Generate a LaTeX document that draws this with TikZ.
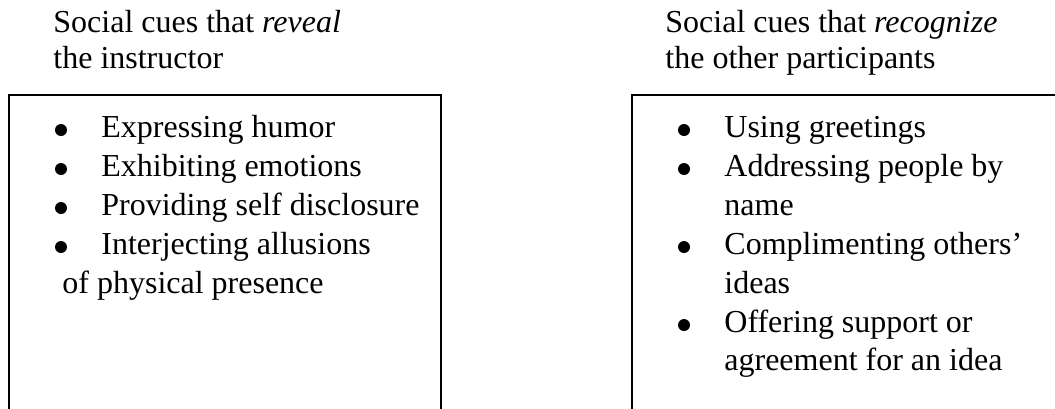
\documentclass[tikz,border=0pt]{standalone}
\usepackage{fontspec}
\setmainfont{Liberation Serif}
\begin{document}
\begin{tikzpicture}[x=0.5pt,y=-0.5pt,
  txt/.style={anchor=base west,inner sep=0pt,font=\fontsize{16}{19}\selectfont},
  bul/.style={circle,fill,inner sep=0pt,minimum size=6pt},
  frame/.style={draw,line width=1pt}]
\useasboundingbox (0,0) rectangle (1055,408);
\clip (0,0) rectangle (1055,408);
% boxes
\draw[frame] (9,95) rectangle (441,440);
\draw[frame] (632,95) rectangle (1090,440);
% left titles
\node[txt] (lt1) at (53,32) {Social cues that \textit{reveal}};
\node[txt] (lt2) at (53,68) {the instructor};
% right titles
\node[txt] (rt1) at (665,32) {Social cues that \textit{recognize}};
\node[txt] (rt2) at (665,68) {the other participants};
% left items
\foreach \y/\t [count=\i] in {137/Expressing humor,176/Exhibiting emotions,215/Providing self disclosure,254/Interjecting allusions}{
  \node[bul] (lb\i) at (61,\y-7) {};
  \node[txt] (li\i) at (101,\y) {\t};
}
\node[txt] (li5) at (62,293) {of physical presence};
% right items
\node[bul] (rb1) at (684,130) {};
\node[txt] (ri1) at (724,137) {Using greetings};
\node[bul] (rb2) at (684,169) {};
\node[txt] (ri2) at (724,176) {Addressing people by};
\node[txt] (ri2b) at (724,215) {name};
\node[bul] (rb3) at (684,247) {};
\node[txt] (ri3) at (724,254) {Complimenting others’};
\node[txt] (ri3b) at (724,293) {ideas};
\node[bul] (rb4) at (684,325) {};
\node[txt] (ri4) at (724,332) {Offering support or};
\node[txt] (ri4b) at (724,370) {agreement for an idea};
\end{tikzpicture}
\end{document}
